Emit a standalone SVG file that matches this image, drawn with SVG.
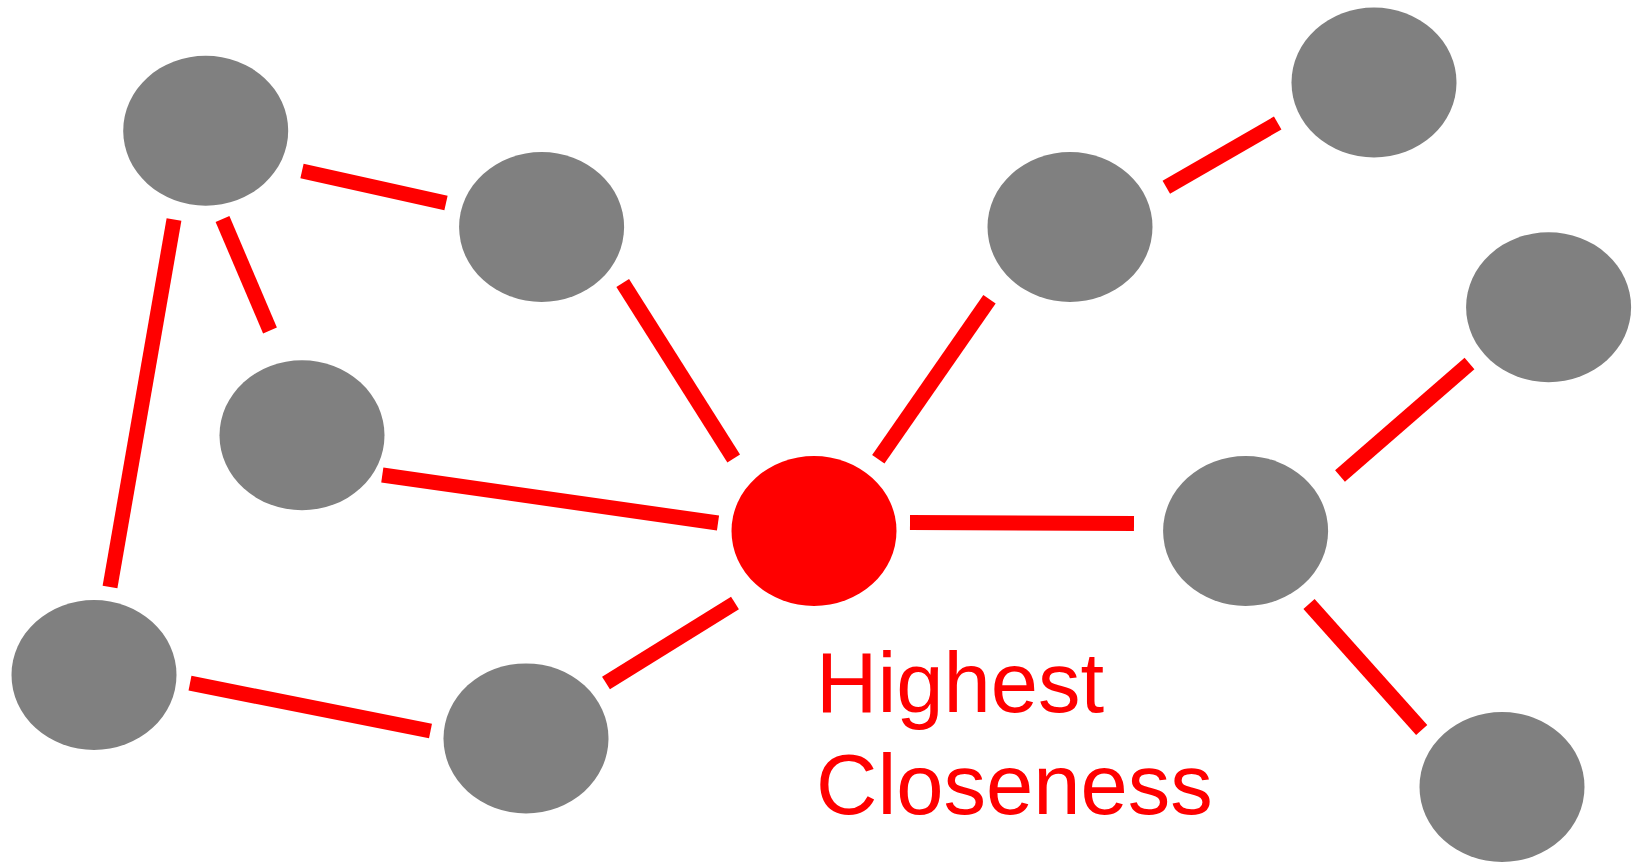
<svg xmlns="http://www.w3.org/2000/svg" width="1633" height="862" viewBox="0 0 1633 862">
  <style>
    .edge { stroke: #ff0000; stroke-width: 15; stroke-linecap: butt; fill: none; }
    .node { fill: #808080; }
    .hub { fill: #ff0000; }
    .label { font-family: "Liberation Sans", Arial, sans-serif; font-size: 85px; fill: #ff0000; }
  </style>
  <rect width="1633" height="862" fill="#ffffff"/>

  <!-- links between nodes -->
  <g id="connectors">
    <line class="edge" x1="302" y1="171" x2="446" y2="203"/>
    <line class="edge" x1="222.5" y1="219" x2="270" y2="330.5"/>
    <line class="edge" x1="174" y1="219.5" x2="110" y2="587"/>
    <line class="edge" x1="622.7" y1="283" x2="733.7" y2="458.5"/>
    <line class="edge" x1="382.3" y1="475" x2="718" y2="523"/>
    <line class="edge" x1="190" y1="683.2" x2="430.5" y2="731"/>
    <line class="edge" x1="606" y1="683" x2="735" y2="603"/>
    <line class="edge" x1="878.3" y1="459.2" x2="989.5" y2="299.2"/>
    <line class="edge" x1="910" y1="522.5" x2="1134" y2="523.5"/>
    <line class="edge" x1="1166.3" y1="187.2" x2="1277.7" y2="123"/>
    <line class="edge" x1="1340" y1="476" x2="1469.5" y2="363.5"/>
    <line class="edge" x1="1309" y1="604" x2="1421.7" y2="730"/>
  </g>

  <g id="n1"><ellipse class="node" cx="205.7" cy="130.7" rx="82.5" ry="75"/></g>
  <g id="n2"><ellipse class="node" cx="541.6" cy="227" rx="82.5" ry="75"/></g>
  <g id="n3"><ellipse class="node" cx="302" cy="435.3" rx="82.5" ry="75"/></g>
  <g id="n4"><ellipse class="node" cx="94" cy="675" rx="82.5" ry="75"/></g>
  <g id="n5"><ellipse class="node" cx="526" cy="738.4" rx="82.5" ry="75"/></g>
  <g id="hub"><ellipse class="hub" cx="814" cy="531" rx="82.5" ry="75"/></g>
  <g id="n7"><ellipse class="node" cx="1070" cy="227" rx="82.5" ry="75"/></g>
  <g id="n8"><ellipse class="node" cx="1374" cy="82.5" rx="82.5" ry="75"/></g>
  <g id="n9"><ellipse class="node" cx="1548.6" cy="307.2" rx="82.5" ry="75"/></g>
  <g id="n10"><ellipse class="node" cx="1245.6" cy="531" rx="82.5" ry="75"/></g>
  <g id="n11"><ellipse class="node" cx="1502" cy="787" rx="82.5" ry="75"/></g>

  <g id="hub-label">
    <text class="label" x="816" y="711.7">Highest</text>
    <text class="label" x="816" y="814">Closeness</text>
  </g>
</svg>
